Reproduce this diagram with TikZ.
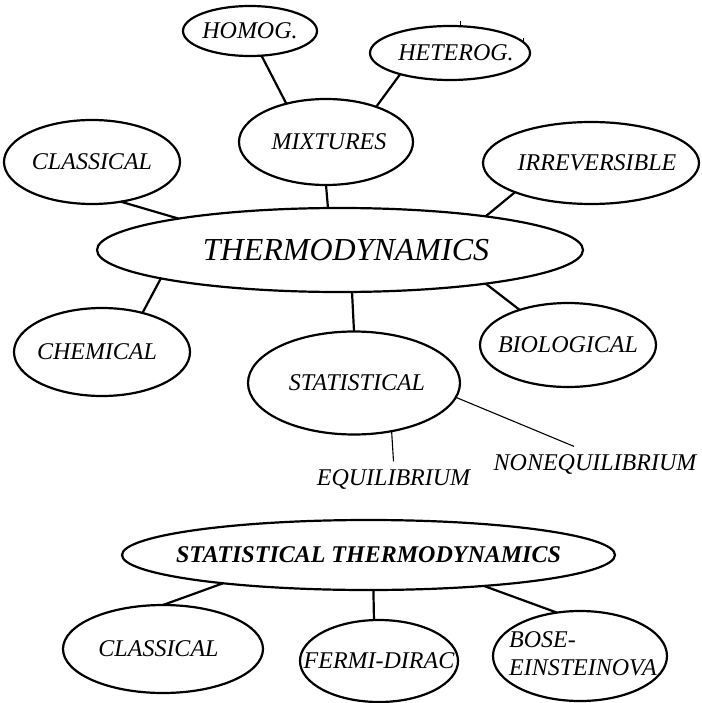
\documentclass[tikz,border=0pt]{standalone}
\usepackage{fontspec}
\setmainfont{Liberation Serif}
\usetikzlibrary{shapes.geometric}
\newcommand{\lbl}[1]{\makebox[0pt]{#1}}
\tikzset{
bubble/.style={draw,ellipse,line width=2.2pt,inner sep=0pt,outer sep=0pt,font=\itshape\fontsize{24}{28}\selectfont},
bigbubble/.style={bubble,font=\itshape\fontsize{32}{36}\selectfont},
plain/.style={inner sep=7.5pt,anchor=base,font=\itshape\fontsize{24}{28}\selectfont},
link/.style={line width=2.2pt},
thinlink/.style={line width=1.1pt},
tick/.style={line width=1.1pt}
}
\begin{document}
\begin{tikzpicture}[x=1pt,y=-1pt]
\useasboundingbox (0,0) rectangle (701,703);
\node[bigbubble,minimum width=486pt,minimum height=84pt](thermo) at (340,250){\lbl{\hspace{12pt}THERMODYNAMICS}};
\node[bubble,minimum width=134pt,minimum height=50pt](homog) at (250,31){\lbl{HOMOG.}};
\node[bubble,minimum width=160pt,minimum height=54pt](heterog) at (450,53){\lbl{\hspace{12pt}HETEROG.}};
\node[bubble,minimum width=174pt,minimum height=86pt](mixtures) at (326,142){\lbl{\hspace{6pt}MIXTURES}};
\node[bubble,minimum width=176pt,minimum height=84pt](classical) at (92,162){\lbl{CLASSICAL}};
\node[bubble,minimum width=216pt,minimum height=82pt](irreversible) at (591,163){\lbl{\hspace{12pt}IRREVERSIBLE}};
\node[bubble,minimum width=176pt,minimum height=88pt](chemical) at (102,352){\lbl{\hspace{-10pt}CHEMICAL}};
\node[bubble,minimum width=176pt,minimum height=84pt](biological) at (568,345){\lbl{BIOLOGICAL}};
\node[bubble,minimum width=212pt,minimum height=103pt](statistical) at (354,383){\lbl{\hspace{6pt}STATISTICAL}};
\node[plain](equilibrium) at (393.5,485){EQUILIBRIUM};
\node[plain](nonequilibrium) at (595,470){NONEQUILIBRIUM};
\node[bubble,font=\bfseries\itshape\fontsize{24}{28}\selectfont,minimum width=493pt,minimum height=70pt](statthermo) at (368.5,555){\lbl{STATISTICAL THERMODYNAMICS}};
\node[bubble,minimum width=200pt,minimum height=88pt](classicalst) at (163,649){\lbl{\hspace{-9pt}CLASSICAL}};
\node[bubble,minimum width=158pt,minimum height=82pt](fermidirac) at (379,661){\lbl{FERMI-DIRAC}};
\node[bubble,minimum width=174pt,minimum height=90pt](boseeinstein) at (580,656){\lbl{\hspace{6pt}\begin{tabular}{@{}l@{}}BOSE-\\EINSTEINOVA\end{tabular}}};
\draw[link](homog.-65)--(mixtures.136);
\draw[link](heterog.203)--(mixtures.35);
\draw[tick](heterog.68)--++(0,-5);
\draw[tick](heterog.8)--++(0,-5);
\draw[link](mixtures.-90)--(thermo.106);
\draw[link](classical.-54)--(thermo.169);
\draw[link](irreversible.201)--(thermo.13);
\draw[link](chemical.44)--(thermo.189);
\draw[link](biological.144)--(thermo.-13);
\draw[link](thermo.-74)--(statistical.north);
\draw[thinlink](statistical.-52)--(equilibrium.north);
\draw[thinlink](statistical.-8)--(nonequilibrium.140);
\draw[link](statthermo.-169)--(classicalst.north);
\draw[link](statthermo.-82)--(fermidirac.97);
\draw[link](statthermo.-15)--(boseeinstein.118);
\end{tikzpicture}
\end{document}
